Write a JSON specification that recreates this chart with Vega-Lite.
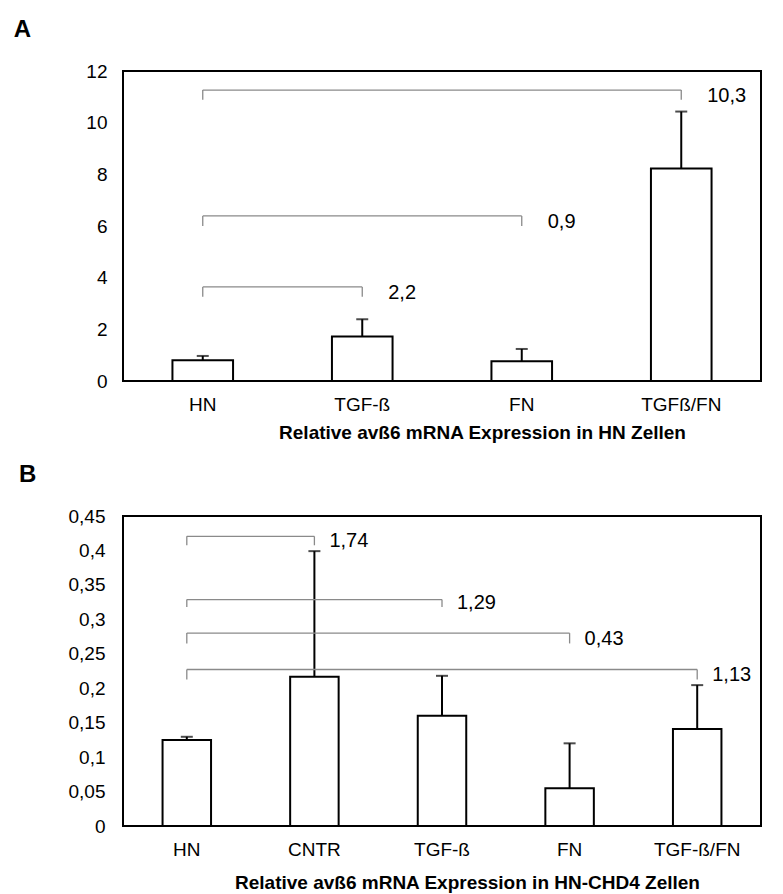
{
  "$schema": "https://vega.github.io/schema/vega-lite/v6.json",
  "padding": {"left": 12, "top": 17, "right": 5, "bottom": 2},
  "spacing": 19,
  "datasets": {
    "barsA": [
      {"group": "HN", "value": 0.8, "upper": 0.97},
      {"group": "TGF-ß", "value": 1.72, "upper": 2.39},
      {"group": "FN", "value": 0.76, "upper": 1.24},
      {"group": "TGFß/FN", "value": 8.23, "upper": 10.43}
    ],
    "bracketsA": [
      {"from": "HN", "to": "TGF-ß", "top": 3.64, "bottom": 3.26, "label": "2,2"},
      {"from": "HN", "to": "FN", "top": 6.39, "bottom": 6.0, "label": "0,9"},
      {"from": "HN", "to": "TGFß/FN", "top": 11.26, "bottom": 10.89, "label": "10,3"}
    ],
    "barsB": [
      {"group": "HN", "value": 0.125, "upper": 0.1295},
      {"group": "CNTR", "value": 0.2165, "upper": 0.399},
      {"group": "TGF-ß", "value": 0.16, "upper": 0.218},
      {"group": "FN", "value": 0.0547, "upper": 0.12},
      {"group": "TGF-ß/FN", "value": 0.1407, "upper": 0.2045}
    ],
    "bracketsB": [
      {"from": "HN", "to": "CNTR", "top": 0.4205, "bottom": 0.4075, "label": "1,74"},
      {"from": "HN", "to": "TGF-ß", "top": 0.3287, "bottom": 0.318, "label": "1,29"},
      {"from": "HN", "to": "FN", "top": 0.28, "bottom": 0.265, "label": "0,43"},
      {"from": "HN", "to": "TGF-ß/FN", "top": 0.2272, "bottom": 0.2127, "label": "1,13"}
    ]
  },
  "vconcat": [
    {
      "width": 638,
      "height": 310,
      "title": {"text": "A", "anchor": "start", "frame": "bounds", "dx": -72, "fontSize": 24, "fontWeight": "bold", "offset": 20, "color": "black"},
      "encoding": {
        "y": {"type": "quantitative",
          "scale": {"domain": [0, 12], "nice": false},
          "axis": {"title": null, "values": [0, 2, 4, 6, 8, 10, 12], "labelPadding": 16, "labelOverlap": false}}
      },
      "layer": [
        {
          "data": {"name": "barsA"},
          "mark": {"type": "bar", "fill": "white", "stroke": "black", "strokeWidth": 2},
          "encoding": {
            "x": {"field": "group", "type": "nominal", "sort": null,
              "scale": {"domain": ["HN", "TGF-ß", "FN", "TGFß/FN"], "paddingInner": 0.62, "paddingOuter": 0.31},
              "axis": {"title": "Relative avß6 mRNA Expression in HN Zellen", "labelAngle": 0, "labelPadding": 14, "titlePadding": 9, "titleX": 359, "titleAlign": "center"}},
            "y": {"field": "value"}
          }
        },
        {
          "data": {"name": "barsA"},
          "mark": {"type": "rule", "color": "black", "strokeWidth": 2},
          "encoding": {
            "x": {"field": "group", "type": "nominal", "sort": null},
            "y": {"field": "value"},
            "y2": {"field": "upper"}
          }
        },
        {
          "data": {"name": "barsA"},
          "mark": {"type": "tick", "color": "black", "thickness": 2, "size": 12},
          "encoding": {
            "x": {"field": "group", "type": "nominal", "sort": null},
            "y": {"field": "upper"}
          }
        },
        {
          "data": {"name": "bracketsA"},
          "mark": {"type": "rule", "color": "#8a8a8a", "strokeWidth": 1.3},
          "encoding": {
            "x": {"field": "from", "type": "nominal", "sort": null},
            "x2": {"field": "to"},
            "y": {"field": "top"}
          }
        },
        {
          "data": {"name": "bracketsA"},
          "mark": {"type": "rule", "color": "#8a8a8a", "strokeWidth": 1.3},
          "encoding": {
            "x": {"field": "from", "type": "nominal", "sort": null},
            "y": {"field": "top"},
            "y2": {"field": "bottom"}
          }
        },
        {
          "data": {"name": "bracketsA"},
          "mark": {"type": "rule", "color": "#8a8a8a", "strokeWidth": 1.3},
          "encoding": {
            "x": {"field": "to", "type": "nominal", "sort": null},
            "y": {"field": "top"},
            "y2": {"field": "bottom"}
          }
        },
        {
          "data": {"name": "bracketsA"},
          "mark": {"type": "text", "align": "left", "baseline": "middle", "dx": 26, "dy": -4, "fontSize": 20, "color": "black"},
          "encoding": {
            "x": {"field": "to", "type": "nominal", "sort": null},
            "y": {"field": "bottom"},
            "text": {"field": "label"}
          }
        }
      ]
    },
    {
      "width": 638,
      "height": 310,
      "title": {"text": "B", "anchor": "start", "frame": "bounds", "dx": -49, "fontSize": 24, "fontWeight": "bold", "offset": 20, "color": "black"},
      "encoding": {
        "y": {"type": "quantitative",
          "scale": {"domain": [0, 0.45], "nice": false},
          "axis": {"title": null, "values": [0, 0.05, 0.1, 0.15, 0.2, 0.25, 0.3, 0.35, 0.4, 0.45], "labelExpr": "replace(format(datum.value, '.2~f'), '.', ',')", "labelPadding": 18, "labelOverlap": false}}
      },
      "layer": [
        {
          "data": {"name": "barsB"},
          "mark": {"type": "bar", "fill": "white", "stroke": "black", "strokeWidth": 2},
          "encoding": {
            "x": {"field": "group", "type": "nominal", "sort": null,
              "scale": {"domain": ["HN", "CNTR", "TGF-ß", "FN", "TGF-ß/FN"], "paddingInner": 0.62, "paddingOuter": 0.31},
              "axis": {"title": "Relative avß6 mRNA Expression in HN-CHD4 Zellen", "labelAngle": 0, "labelPadding": 14, "titlePadding": 14, "titleX": 344, "titleAlign": "center"}},
            "y": {"field": "value"}
          }
        },
        {
          "data": {"name": "barsB"},
          "mark": {"type": "rule", "color": "black", "strokeWidth": 2},
          "encoding": {
            "x": {"field": "group", "type": "nominal", "sort": null},
            "y": {"field": "value"},
            "y2": {"field": "upper"}
          }
        },
        {
          "data": {"name": "barsB"},
          "mark": {"type": "tick", "color": "black", "thickness": 2, "size": 12},
          "encoding": {
            "x": {"field": "group", "type": "nominal", "sort": null},
            "y": {"field": "upper"}
          }
        },
        {
          "data": {"name": "bracketsB"},
          "mark": {"type": "rule", "color": "#8a8a8a", "strokeWidth": 1.3},
          "encoding": {
            "x": {"field": "from", "type": "nominal", "sort": null},
            "x2": {"field": "to"},
            "y": {"field": "top"}
          }
        },
        {
          "data": {"name": "bracketsB"},
          "mark": {"type": "rule", "color": "#8a8a8a", "strokeWidth": 1.3},
          "encoding": {
            "x": {"field": "from", "type": "nominal", "sort": null},
            "y": {"field": "top"},
            "y2": {"field": "bottom"}
          }
        },
        {
          "data": {"name": "bracketsB"},
          "mark": {"type": "rule", "color": "#8a8a8a", "strokeWidth": 1.3},
          "encoding": {
            "x": {"field": "to", "type": "nominal", "sort": null},
            "y": {"field": "top"},
            "y2": {"field": "bottom"}
          }
        },
        {
          "data": {"name": "bracketsB"},
          "mark": {"type": "text", "align": "left", "baseline": "middle", "dx": 15, "dy": -4, "fontSize": 20, "color": "black"},
          "encoding": {
            "x": {"field": "to", "type": "nominal", "sort": null},
            "y": {"field": "bottom"},
            "text": {"field": "label"}
          }
        }
      ]
    }
  ],
  "config": {
    "font": "Liberation Sans",
    "view": {"stroke": "black", "strokeWidth": 2},
    "axis": {"grid": false, "ticks": false, "domain": false, "labelColor": "black", "labelFontSize": 19, "titleFontSize": 19, "titleFontWeight": "bold", "titleColor": "black", "labelFont": "Liberation Sans", "titleFont": "Liberation Sans", "labelOverlap": false, "labelSeparation": 0},
    "title": {"font": "Liberation Sans"}
  }
}
